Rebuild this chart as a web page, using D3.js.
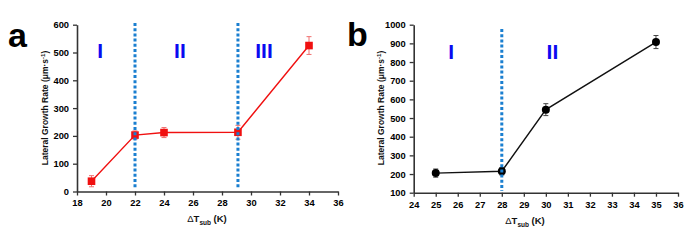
<!DOCTYPE html>
<html><head><meta charset="utf-8">
<script src="https://cdn.jsdelivr.net/npm/d3@7"></script>
<style>body{margin:0;background:#fff}svg{display:block}text{font-family:"Liberation Sans",Arial,sans-serif}</style>
</head><body>
<svg id="c" width="697" height="240"></svg>
<script>
// Panel a
const aX = [19, 22, 24, 29.1, 34];
const aY = [37, 203, 212, 213, 525];
const aErr = [20, 15, 18, 25, 32];
const aXTicks = [18,20,22,24,26,28,30,32,34,36];
const aYTicks = [0,100,200,300,400,500,600];
const aDividers = [22, 29.1];
const aRegions = [{x:19.6,label:"I"},{x:25.1,label:"II"},{x:30.9,label:"III"}];
// Panel b
const bX = [25, 28, 30, 35];
const bY = [205, 215, 545, 907];
const bErr = [22, 20, 32, 35];
const bXTicks = [24,25,26,27,28,29,30,31,32,33,34,35,36];
const bYTicks = [100,200,300,400,500,600,700,800,900,1000];
const bDividers = [28];
const bRegions = [{x:25.7,label:"I"},{x:30.3,label:"II"}];

const svg = d3.select("#c");

function panel(o){
  const g = svg.append("g");
  const x = d3.scaleLinear().domain(o.xd).range([o.x0,o.x1]);
  const y = d3.scaleLinear().domain(o.yd).range([o.y0,o.y1]);
  const axisColor = "#333";
  const xa = g.append("g").attr("transform",`translate(0,${o.y0})`)
    .call(d3.axisBottom(x).tickValues(o.xt).tickSize(4).tickSizeOuter(0).tickFormat(d3.format("d")));
  const ya = g.append("g").attr("transform",`translate(${o.x0},0)`)
    .call(d3.axisLeft(y).tickValues(o.yt).tickSize(4).tickSizeOuter(0).tickFormat(d3.format("d")));
  [xa,ya].forEach(a=>{
    a.select(".domain").attr("stroke",axisColor).attr("stroke-width",1.6);
    a.selectAll(".tick line").attr("stroke",axisColor).attr("stroke-width",1.3);
    a.selectAll(".tick text").attr("fill","#000").attr("font-size",9.3).attr("font-weight","bold");
  });
  xa.selectAll(".tick text").attr("dy","0.85em");
  ya.selectAll(".tick text").attr("dx","-1");
  // region labels
  g.selectAll(".reg").data(o.reg).join("text")
    .attr("x",d=>x(d.x)).attr("y",o.regY).attr("text-anchor","middle")
    .attr("fill","#0a0af0").attr("font-size",21).attr("font-weight","bold")
    .text(d=>d.label);
  // line
  const pts = o.xs.map((v,i)=>({x:v,y:o.ys[i],e:o.es[i]}));
  g.append("path").datum(pts)
    .attr("d",d3.line().x(d=>x(d.x)).y(d=>y(d.y)))
    .attr("fill","none").attr("stroke",o.lineColor).attr("stroke-width",1.4);
  // error bars
  const eb = g.selectAll(".eb").data(pts).join("g");
  eb.append("line").attr("x1",d=>x(d.x)).attr("x2",d=>x(d.x))
    .attr("y1",d=>y(d.y-d.e)).attr("y2",d=>y(d.y+d.e))
    .attr("stroke",o.errColor).attr("stroke-width",1);
  [1,-1].forEach(s=>{
    eb.append("line").attr("x1",d=>x(d.x)-2.5).attr("x2",d=>x(d.x)+2.5)
      .attr("y1",d=>y(d.y+s*d.e)).attr("y2",d=>y(d.y+s*d.e))
      .attr("stroke",o.errColor).attr("stroke-width",1);
  });
  // markers
  if(o.marker==="square"){
    g.selectAll(".m").data(pts).join("rect")
      .attr("x",d=>x(d.x)-3.8).attr("y",d=>y(d.y)-3.8).attr("width",7.6).attr("height",7.6)
      .attr("fill",o.markColor);
  } else {
    g.selectAll(".m").data(pts).join("circle")
      .attr("cx",d=>x(d.x)).attr("cy",d=>y(d.y)).attr("r",4)
      .attr("fill",o.markColor);
  }
  // dividers (drawn above markers)
  g.selectAll(".div").data(o.div).join("line")
    .attr("x1",d=>x(d)).attr("x2",d=>x(d))
    .attr("y1",o.divTop).attr("y2",o.divBot)
    .attr("stroke","#1a7fd0").attr("stroke-width",3).attr("stroke-dasharray","3,2.2");
  // axis titles
  const yl = g.append("text").attr("transform",`translate(${o.ylx},${o.yly}) rotate(-90)`)
    .attr("text-anchor","middle").attr("font-size",8.5).attr("font-weight","bold").attr("fill","#111");
  yl.append("tspan").text("Lateral Growth Rate (μm·s");
  yl.append("tspan").attr("dy",-3).attr("font-size",6).text("-1");
  yl.append("tspan").attr("dy",3).text(")");
  const xl = g.append("text").attr("x",o.xlx).attr("y",o.xly).attr("text-anchor","middle")
    .attr("font-size",9.5).attr("font-weight","bold").attr("fill","#111");
  xl.append("tspan").attr("font-weight","normal").text("Δ");
  xl.append("tspan").text("T");
  xl.append("tspan").attr("dy",2.5).attr("font-size",6.5).text("sub");
  xl.append("tspan").attr("dy",-2.5).text(" (K)");
  // panel letter
  g.append("text").attr("x",o.lx).attr("y",o.ly).attr("font-size",34).attr("font-weight","bold")
    .attr("fill","#000").text(o.letter);
}

panel({xd:[18,36],yd:[0,600],x0:77,x1:338,y0:191.5,y1:24.7,xt:aXTicks,yt:aYTicks,
  div:aDividers,divTop:23,divBot:188,reg:aRegions,regY:57.7,
  xs:aX,ys:aY,es:aErr,lineColor:"#f01010",errColor:"#f07070",markColor:"#f01010",marker:"square",
  ylx:48,yly:108,xlx:207,xly:222,lx:8,ly:47,letter:"a"});
panel({xd:[24,36],yd:[100,1000],x0:413.7,x1:678,y0:192.7,y1:24.7,xt:bXTicks,yt:bYTicks,
  div:bDividers,divTop:29,divBot:191,reg:bRegions,regY:58.5,
  xs:bX,ys:bY,es:bErr,lineColor:"#111",errColor:"#444",markColor:"#000",marker:"circle",
  ylx:384,yly:108,xlx:525,xly:224,lx:347,ly:46,letter:"b"});
</script>
</body></html>
